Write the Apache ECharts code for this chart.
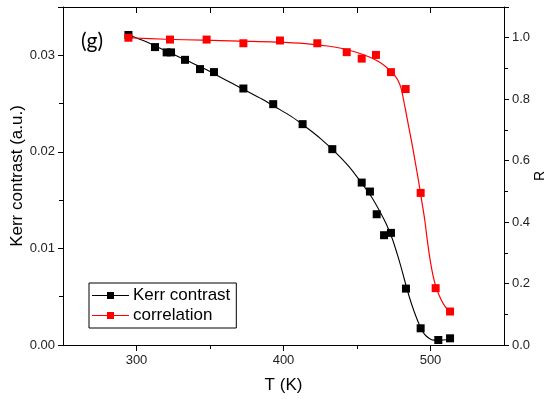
<!DOCTYPE html>
<html>
<head>
<meta charset="utf-8">
<script src="https://cdn.jsdelivr.net/npm/echarts@6/dist/echarts.min.js"></script>
<style>html,body{margin:0;padding:0;background:#fff}#c{width:550px;height:399px}</style>
</head>
<body>
<div id="c"></div>
<script>
// Measured Kerr contrast points
const kerrT = [294.5, 312.6, 320.5, 323.5, 333, 343.2, 352.7, 372.7, 393, 413, 433.2, 453.2, 458.8, 463.4, 468.4, 473.1, 483.3, 493.3, 505.3, 513.3];
const kerrV = [0.0321, 0.03085, 0.0303, 0.0303, 0.02953, 0.02857, 0.02826, 0.02656, 0.02494, 0.02287, 0.02028, 0.01682, 0.01589, 0.01354, 0.01137, 0.01161, 0.00584, 0.00173, 0.00052, 0.00069];
// Measured correlation points
const corrT = [294.5, 322.8, 347.7, 372.7, 397.6, 423, 443, 453.2, 462.9, 473.1, 483.1, 493.3, 503.5, 513.3];
const corrR = [1.0, 0.994, 0.994, 0.982, 0.991, 0.982, 0.953, 0.932, 0.944, 0.888, 0.833, 0.495, 0.185, 0.109];
// Fit curves
const fitKerrT = [294.5, 305, 315, 325, 335, 345, 355, 365, 375, 385, 395, 405, 415, 425, 435, 445, 453, 460, 466, 470, 474, 478, 481, 484, 487, 490, 493, 496, 499, 502, 506, 513];
const fitKerrV = [0.0321, 0.0315, 0.0308, 0.0301, 0.0294, 0.0287, 0.0279, 0.0271, 0.0263, 0.0255, 0.0246, 0.0237, 0.0226, 0.0214, 0.0200, 0.0184, 0.0168, 0.0153, 0.0137, 0.0125, 0.0110, 0.0091, 0.0075, 0.0058, 0.0043, 0.0030, 0.0019, 0.0011, 0.0007, 0.0005, 0.0005, 0.0006];
const fitCorrT = [294.5, 320, 345, 370, 395, 415, 430, 440, 450, 458, 464, 469, 473, 476, 478, 480, 482, 484, 486, 488, 490, 492, 494, 496, 498, 500, 502, 504, 507, 510, 513];
const fitCorrR = [1.0, 0.995, 0.992, 0.989, 0.986, 0.981, 0.973, 0.965, 0.952, 0.938, 0.924, 0.908, 0.89, 0.875, 0.86, 0.835, 0.79, 0.74, 0.69, 0.64, 0.585, 0.53, 0.47, 0.41, 0.335, 0.27, 0.22, 0.185, 0.15, 0.125, 0.11];
const xTickLabels = [300, 400, 500];
const xMinorTicks = [350, 450];
const xTopTicks = [300, 350, 400, 450, 500];

const zip = (a, b) => a.map((v, i) => [v, b[i]]);
const font = 'Liberation Sans, Arial, sans-serif';
const iconPath = 'path://M0,3h15v1h-15z M15,0h7v7h-7z M22,3h15v1h-15z';

const chart = echarts.init(document.getElementById('c'));
chart.setOption({
  animation: false,
  backgroundColor: '#fff',
  textStyle: { fontFamily: font },
  grid: { left: 63, right: 46, top: 7, bottom: 54, containLabel: false, outerBoundsMode: 'none' },
  title: {
    text: '(g)', left: 76, top: 26,
    textStyle: { fontFamily: 'Lato, Open Sans, sans-serif', fontWeight: 'normal', fontSize: 21, color: '#000' }
  },
  legend: {
    orient: 'vertical', left: 89, top: 283,
    padding: [4, 6, 4, 3], itemGap: 3,
    itemWidth: 37, itemHeight: 7,
    borderColor: '#000', borderWidth: 1, borderRadius: 0,
    textStyle: { fontFamily: font, fontSize: 17, color: '#000', lineHeight: 17, padding: [0, 0, 0, -1] },
    data: [{ name: 'Kerr contrast', icon: iconPath }, { name: 'correlation', icon: iconPath }]
  },
  xAxis: [
    {
      type: 'value', min: 250, max: 550, position: 'bottom',
      name: 'T (K)', nameLocation: 'middle', nameGap: 32, nameMoveOverlap: false,
      nameTextStyle: { fontFamily: font, fontSize: 17, color: '#000' },
      axisLine: { show: true, onZero: false, lineStyle: { color: '#000', width: 1 } },
      axisTick: { show: true, inside: false, length: 6, customValues: xTickLabels, lineStyle: { color: '#000' } },
      axisLabel: { show: true, customValues: xTickLabels, fontSize: 13, color: '#222', margin: 9 },
      splitLine: { show: false }
    },
    {
      type: 'value', min: 250, max: 550, position: 'top',
      axisLine: { show: true, onZero: false, lineStyle: { color: '#000', width: 1 } },
      axisTick: { show: true, inside: true, length: 6, customValues: xTopTicks, lineStyle: { color: '#000' } },
      axisLabel: { show: false },
      splitLine: { show: false }
    },
    {
      type: 'value', min: 250, max: 550, position: 'bottom',
      axisLine: { show: false, onZero: false },
      axisTick: { show: true, inside: false, length: 4, customValues: xMinorTicks, lineStyle: { color: '#000' } },
      axisLabel: { show: false },
      splitLine: { show: false }
    }
  ],
  yAxis: [
    {
      type: 'value', min: 0, max: 0.035, interval: 0.01, position: 'left',
      name: 'Kerr contrast (a.u.)', nameLocation: 'middle', nameGap: 37, nameMoveOverlap: false,
      nameTextStyle: { fontFamily: font, fontSize: 17, color: '#000' },
      axisLine: { show: true, onZero: false, lineStyle: { color: '#000', width: 1 } },
      axisTick: { show: true, inside: false, length: 5, lineStyle: { color: '#000' } },
      minorTick: { show: true, splitNumber: 2, length: 4, lineStyle: { color: '#000' } },
      axisLabel: { fontSize: 13, color: '#222', margin: 8, showMaxLabel: false, formatter: v => v.toFixed(2) },
      splitLine: { show: false }, minorSplitLine: { show: false }
    },
    {
      type: 'value', min: 0, max: 1.1, interval: 0.2, position: 'right',
      name: 'R', nameLocation: 'middle', nameGap: 29, nameRotate: 90, nameMoveOverlap: false,
      nameTextStyle: { fontFamily: font, fontSize: 14, color: '#000' },
      axisLine: { show: true, onZero: false, lineStyle: { color: '#000', width: 1 } },
      axisTick: { show: true, inside: false, length: 5, lineStyle: { color: '#000' } },
      minorTick: { show: true, splitNumber: 2, length: 4, lineStyle: { color: '#000' } },
      axisLabel: { fontSize: 13, color: '#222', margin: 8, showMaxLabel: false, formatter: v => v.toFixed(1) },
      splitLine: { show: false }, minorSplitLine: { show: false }
    }
  ],
  series: [
    {
      name: 'Kerr fit', type: 'line', xAxisIndex: 0, yAxisIndex: 0,
      data: zip(fitKerrT, fitKerrV), smooth: 0.3,
      symbol: 'none', lineStyle: { color: '#000', width: 1.1 }, z: 2
    },
    {
      name: 'correlation fit', type: 'line', xAxisIndex: 0, yAxisIndex: 1,
      data: zip(fitCorrT, fitCorrR), smooth: 0.3,
      symbol: 'none', lineStyle: { color: '#ff0000', width: 1.2 }, z: 2
    },
    {
      name: 'Kerr contrast', type: 'scatter', xAxisIndex: 0, yAxisIndex: 0,
      data: zip(kerrT, kerrV), symbol: 'rect', symbolSize: 8,
      itemStyle: { color: '#000', opacity: 1 }, z: 3
    },
    {
      name: 'correlation', type: 'scatter', xAxisIndex: 0, yAxisIndex: 1,
      data: zip(corrT, corrR), symbol: 'rect', symbolSize: 8,
      itemStyle: { color: '#ff0000', opacity: 1 }, z: 3
    }
  ]
});
</script>
</body>
</html>
